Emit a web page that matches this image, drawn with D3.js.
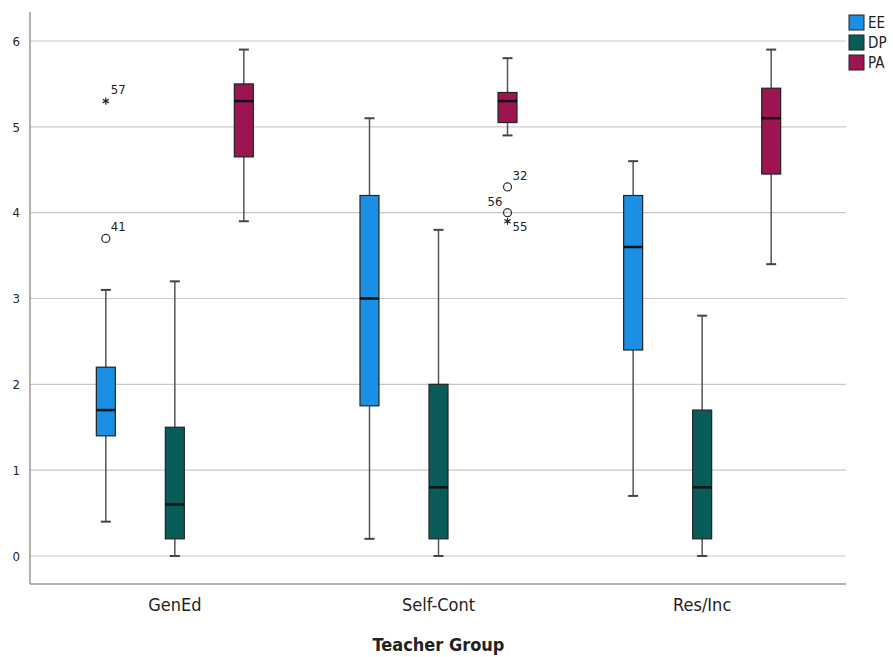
<!DOCTYPE html>
<style>
body { margin: 0; background: #fff; }
.axis .domain { display: none; }
text { font-family: "DejaVu Sans Condensed", "DejaVu Sans", sans-serif; }
</style>
<svg width="893" height="657"></svg>
<script src="https://d3js.org/d3.v7.min.js"></script>
<script>

var groups = ["GenEd", "Self-Cont", "Res/Inc"];
var keys = ["EE", "DP", "PA"];
var colors = ["#1a8fe3", "#0a5c59", "#9c1552"];
var yTicks = [0, 1, 2, 3, 4, 5, 6];

// [min, q1, median, q3, max] per group, per series
var statsEE = [[0.4, 1.4, 1.7, 2.2, 3.1], [0.2, 1.75, 3.0, 4.2, 5.1], [0.7, 2.4, 3.6, 4.2, 4.6]];
var statsDP = [[0, 0.2, 0.6, 1.5, 3.2], [0, 0.2, 0.8, 2.0, 3.8], [0, 0.2, 0.8, 1.7, 2.8]];
var statsPA = [[3.9, 4.65, 5.3, 5.5, 5.9], [4.9, 5.05, 5.3, 5.4, 5.8], [3.4, 4.45, 5.1, 5.45, 5.9]];

// outliers: group, series, value, case label, type
var outliers = [
  {group: "GenEd", key: "EE", value: 3.7, label: "41", type: "circle"},
  {group: "GenEd", key: "EE", value: 5.3, label: "57", type: "star"},
  {group: "Self-Cont", key: "PA", value: 4.3, label: "32", type: "circle"},
  {group: "Self-Cont", key: "PA", value: 4.0, label: "56", type: "circle", left: true},
  {group: "Self-Cont", key: "PA", value: 3.9, label: "55", type: "star", below: true}
];

var stats = {EE: statsEE, DP: statsDP, PA: statsPA};

var svg = d3.select("svg"),
    plotLeft = 30, plotRight = 846, plotTop = 12, plotBottom = 584;

var x = d3.scaleBand().domain(groups).range([43, 834]);
var xs = d3.scaleBand().domain(keys).range([-78.5, 78.5]).paddingInner(0.725).paddingOuter(0);
var y = d3.scaleLinear().domain([0, 6]).range([556, 41]);
var z = d3.scaleOrdinal().domain(keys).range(colors);

// grid lines
svg.append("g")
  .selectAll("line")
  .data(yTicks)
  .enter().append("line")
    .attr("x1", plotLeft).attr("x2", plotRight)
    .attr("y1", function(d) { return y(d); })
    .attr("y2", function(d) { return y(d); })
    .attr("stroke", "#c8c8c8")
    .attr("stroke-width", 1.2);

// axis frame
svg.append("line").attr("x1", plotLeft).attr("x2", plotLeft).attr("y1", plotTop).attr("y2", plotBottom)
  .attr("stroke", "#999").attr("stroke-width", 1.5);
svg.append("line").attr("x1", plotLeft).attr("x2", plotRight).attr("y1", plotBottom).attr("y2", plotBottom)
  .attr("stroke", "#999").attr("stroke-width", 1.5);

// y tick labels
svg.append("g")
  .attr("class", "axis")
  .attr("transform", "translate(" + plotLeft + ",0)")
  .call(d3.axisLeft(y).tickValues(yTicks).tickSize(0).tickPadding(10).tickFormat(d3.format("d")))
  .selectAll("text")
    .attr("font-size", 13)
    .attr("fill", "#222");

// x labels
svg.append("g")
  .attr("class", "axis")
  .attr("transform", "translate(0," + plotBottom + ")")
  .call(d3.axisBottom(x).tickSize(0).tickPadding(14))
  .selectAll("text")
    .attr("font-size", 18)
    .attr("fill", "#222");

svg.selectAll(".axis text").style("font-family", "'DejaVu Sans Condensed', sans-serif");

svg.append("text")
  .attr("x", x("Self-Cont") + x.bandwidth() / 2)
  .attr("y", 651)
  .attr("text-anchor", "middle")
  .attr("font-size", 18)
  .attr("font-weight", "bold")
  .attr("fill", "#222")
  .text("Teacher Group");

// boxes
var rows = [];
groups.forEach(function(g, gi) {
  keys.forEach(function(k) {
    var s = stats[k][gi];
    rows.push({group: g, key: k, min: s[0], q1: s[1], med: s[2], q3: s[3], max: s[4]});
  });
});

var bw = xs.bandwidth();
function cx(d) { return x(d.group) + x.bandwidth() / 2 + xs(d.key) + bw / 2; }

var box = svg.append("g").selectAll("g")
  .data(rows)
  .enter().append("g")
    .attr("transform", function(d) { return "translate(" + cx(d) + ",0)"; });

box.append("line")
  .attr("y1", function(d) { return y(d.max); })
  .attr("y2", function(d) { return y(d.q3); })
  .attr("stroke", "#555").attr("stroke-width", 1.5);
box.append("line")
  .attr("y1", function(d) { return y(d.q1); })
  .attr("y2", function(d) { return y(d.min); })
  .attr("stroke", "#555").attr("stroke-width", 1.5);
box.append("line")
  .attr("x1", -5).attr("x2", 5)
  .attr("y1", function(d) { return y(d.max); })
  .attr("y2", function(d) { return y(d.max); })
  .attr("stroke", "#444").attr("stroke-width", 2);
box.append("line")
  .attr("x1", -5).attr("x2", 5)
  .attr("y1", function(d) { return y(d.min); })
  .attr("y2", function(d) { return y(d.min); })
  .attr("stroke", "#444").attr("stroke-width", 2);
box.append("rect")
  .attr("x", -bw / 2)
  .attr("width", bw)
  .attr("y", function(d) { return y(d.q3); })
  .attr("height", function(d) { return y(d.q1) - y(d.q3); })
  .attr("fill", function(d) { return z(d.key); })
  .attr("stroke", "#222").attr("stroke-width", 1.2);
box.append("line")
  .attr("x1", -bw / 2).attr("x2", bw / 2)
  .attr("y1", function(d) { return y(d.med); })
  .attr("y2", function(d) { return y(d.med); })
  .attr("stroke", "#111").attr("stroke-width", 2.5);

// outliers
var out = svg.append("g").selectAll("g")
  .data(outliers)
  .enter().append("g")
    .attr("transform", function(d) { return "translate(" + cx(d) + "," + y(d.value) + ")"; });

out.filter(function(d) { return d.type === "circle"; })
  .append("circle")
    .attr("r", 4)
    .attr("fill", "none")
    .attr("stroke", "#333")
    .attr("stroke-width", 1.3);

out.filter(function(d) { return d.type === "star"; })
  .append("path")
    .attr("d", d3.symbol().type(d3.symbolAsterisk).size(36))
    .attr("fill", "none")
    .attr("stroke", "#222")
    .attr("stroke-width", 1.2);

out.append("text")
  .attr("x", function(d) { return d.left ? -5 : 5; })
  .attr("y", function(d) { return d.below ? 10 : -7; })
  .attr("text-anchor", function(d) { return d.left ? "end" : "start"; })
  .attr("font-size", 13)
  .attr("fill", "#222")
  .text(function(d) { return d.label; });

// legend
var legend = svg.append("g").selectAll("g")
  .data(keys)
  .enter().append("g")
    .attr("transform", function(d, i) { return "translate(849," + (15 + i * 20) + ")"; });

legend.append("rect")
  .attr("width", 15)
  .attr("height", 15)
  .attr("fill", z)
  .attr("stroke", "#222")
  .attr("stroke-width", 1);

legend.append("text")
  .attr("x", 19)
  .attr("y", 7.5)
  .attr("dy", "0.35em")
  .attr("font-size", 15)
  .attr("fill", "#222")
  .text(function(d) { return d; });

</script>
